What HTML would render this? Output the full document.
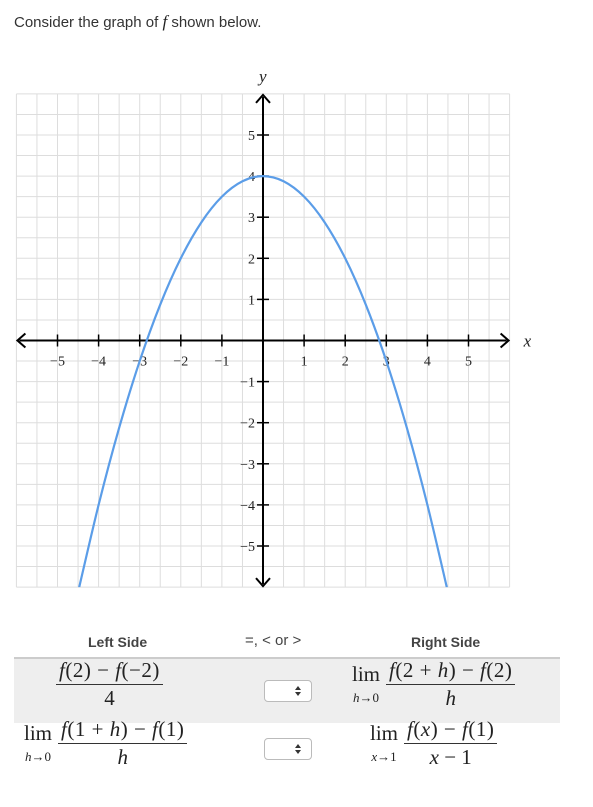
<!DOCTYPE html>
<html><head><meta charset="utf-8"><style>
body{margin:0;width:593px;height:807px;background:#fff;font-family:"Liberation Sans",sans-serif;color:#333;position:relative;overflow:hidden}
.abs{position:absolute}
.m{font-family:"Liberation Serif",serif;color:#222}
.frac{display:inline-block;vertical-align:middle;text-align:center;line-height:1.1}
.frac .n{border-bottom:1.5px solid #333;padding:0 3px 2px;letter-spacing:0.5px}
.frac .d{padding-top:2px}
.lim{display:inline-block;vertical-align:middle;text-align:center;margin-right:6px;line-height:1}
.lim .s{font-size:13px;font-style:italic}
.sel{position:absolute;width:46px;height:20px;border:1px solid #bbb;border-radius:4px;background:#fff}
.sel:after{content:"";position:absolute;right:10px;top:5px;border-left:3px solid transparent;border-right:3px solid transparent;border-bottom:4px solid #333}
.sel:before{content:"";position:absolute;right:10px;top:11px;border-left:3px solid transparent;border-right:3px solid transparent;border-top:4px solid #333}
</style></head><body>
<div class="abs" style="left:14px;top:12px;font-size:15px">Consider the graph of <i class="m" style="font-size:17px">f</i> shown below.</div>
<svg class="abs" style="left:0;top:0" width="593" height="610">
<g id="grid"></g>
<g id="axes"></g>
<path id="curve" fill="none" stroke="#5b9de8" stroke-width="2.2"/>
</svg>
<div class="abs" style="left:88px;top:634px;font-size:14px;font-weight:bold;color:#444">Left Side</div>
<div class="abs" style="left:245px;top:632px;font-size:15px;color:#444">=, &lt; or &gt;</div>
<div class="abs" style="left:411px;top:634px;font-size:14px;font-weight:bold;color:#444">Right Side</div>
<div class="abs" style="left:14px;top:657px;width:546px;height:64px;background:#eee;border-top:2px solid #ccc"></div>
<div class="abs m" style="left:56px;top:659px;font-size:21px"><span class="frac"><div class="n"><i>f</i>(2) − <i>f</i>(−2)</div><div class="d">4</div></span></div>
<div class="sel" style="left:264px;top:680px"></div>
<div class="abs m" style="left:352px;top:659px;font-size:21px"><span class="lim">lim<br><span class="s">h</span><span style="font-size:13px">→0</span></span><span class="frac"><div class="n"><i>f</i>(2 + <i>h</i>) − <i>f</i>(2)</div><div class="d"><i>h</i></div></span></div>
<div class="abs m" style="left:24px;top:718px;font-size:21px"><span class="lim">lim<br><span class="s">h</span><span style="font-size:13px">→0</span></span><span class="frac"><div class="n"><i>f</i>(1 + <i>h</i>) − <i>f</i>(1)</div><div class="d"><i>h</i></div></span></div>
<div class="sel" style="left:264px;top:738px"></div>
<div class="abs m" style="left:370px;top:718px;font-size:21px"><span class="lim">lim<br><span class="s">x</span><span style="font-size:13px">→1</span></span><span class="frac"><div class="n"><i>f</i>(<i>x</i>) − <i>f</i>(1)</div><div class="d"><i>x</i> − 1</div></span></div>
<script>
const xTicks=[-5,-4,-3,-2,-1,1,2,3,4,5];
const yTicks=[-5,-4,-3,-2,-1,1,2,3,4,5];
const curveX=[-4.5,-4,-3.5,-3,-2.5,-2,-1.5,-1,-0.5,0,0.5,1,1.5,2,2.5,3,3.5,4,4.5];
const curveY=[-6.125,-4,-2.125,-0.5,0.875,2,2.875,3.5,3.875,4,3.875,3.5,2.875,2,0.875,-0.5,-2.125,-4,-6.125];
const U=41.1,CX=263,CY=340.5,MIN=-6,MAX=6;
const sx=v=>CX+v*U, sy=v=>CY-v*U;
const NS="http://www.w3.org/2000/svg";
function mk(t,a,p){const e=document.createElementNS(NS,t);for(const k in a)e.setAttribute(k,a[k]);p.appendChild(e);return e;}
const g=document.getElementById('grid');
for(let i=MIN*2;i<=MAX*2;i++){const v=i/2;
 const l1=mk('line',{x1:sx(v),x2:sx(v),y1:sy(MAX),y2:sy(MIN),stroke:'#ddd','stroke-width':1},g);
 
 
 const l2=mk('line',{x1:sx(MIN),x2:sx(MAX),y1:sy(v),y2:sy(v),stroke:'#ddd','stroke-width':1},g);
 
 }
const a=document.getElementById('axes');
mk('line',{x1:sx(MIN)+3,x2:sx(MAX)-3,y1:CY,y2:CY,stroke:'#000','stroke-width':2},a);
mk('line',{x1:CX,x2:CX,y1:sy(MAX)+3,y2:sy(MIN)-3,stroke:'#000','stroke-width':2},a);
const ar='fill:none;stroke:#000;stroke-width:2';
mk('path',{d:`M${sx(MIN)+9},${CY-7}L${sx(MIN)+1},${CY}L${sx(MIN)+9},${CY+7}`,style:ar},a);
mk('path',{d:`M${sx(MAX)-9},${CY-7}L${sx(MAX)-1},${CY}L${sx(MAX)-9},${CY+7}`,style:ar},a);
mk('path',{d:`M${CX-7},${sy(MAX)+9}L${CX},${sy(MAX)+1}L${CX+7},${sy(MAX)+9}`,style:ar},a);
mk('path',{d:`M${CX-7},${sy(MIN)-9}L${CX},${sy(MIN)-1}L${CX+7},${sy(MIN)-9}`,style:ar},a);
const tf='font-family:"Liberation Serif",serif;font-size:14px;fill:#222';
xTicks.forEach(v=>{mk('line',{x1:sx(v),x2:sx(v),y1:CY-6,y2:CY+6,stroke:'#000','stroke-width':1.5},a);
 const t=mk('text',{x:sx(v),y:CY+25,'text-anchor':'middle',style:tf},a);t.textContent=v<0?'−'+(-v):v;
 
 });
yTicks.forEach(v=>{mk('line',{x1:CX-6,x2:CX+6,y1:sy(v),y2:sy(v),stroke:'#000','stroke-width':1.5},a);
 const t=mk('text',{x:CX-8,y:sy(v)+5,'text-anchor':'end',style:tf},a);t.textContent=v<0?'−'+(-v):v;
 
 });
const xl=mk('text',{x:sx(MAX)+14,y:CY+6,style:'font-family:"Liberation Serif",serif;font-style:italic;font-size:17px;fill:#222'},a);xl.textContent='x';


const yl=mk('text',{x:CX-4,y:sy(MAX)-12,style:'font-family:"Liberation Serif",serif;font-style:italic;font-size:17px;fill:#222'},a);yl.textContent='y';


const P=curveX.map((x,i)=>[sx(x),sy(curveY[i])]);
let d=`M${P[0][0]},${P[0][1]}`;
for(let i=0;i<P.length-1;i++){const p0=P[Math.max(0,i-1)],p1=P[i],p2=P[i+1],p3=P[Math.min(P.length-1,i+2)];
 d+=`C${p1[0]+(p2[0]-p0[0])/6},${p1[1]+(p2[1]-p0[1])/6} ${p2[0]-(p3[0]-p1[0])/6},${p2[1]-(p3[1]-p1[1])/6} ${p2[0]},${p2[1]}`;}
const c=document.getElementById('curve');c.setAttribute('d',d);
const clip=mk('clipPath',{id:'cp'},document.querySelector('svg'));mk('rect',{x:sx(MIN),y:sy(MAX),width:12*U,height:12*U},clip);
c.setAttribute('clip-path','url(#cp)');
</script>
</body></html>
